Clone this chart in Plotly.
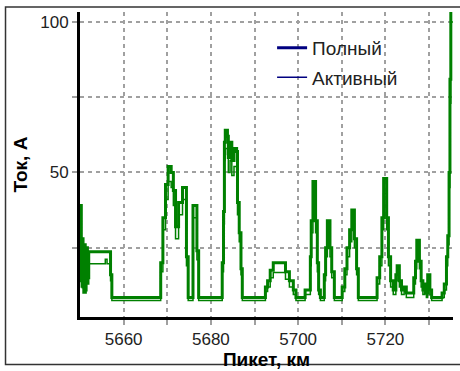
import plotly.graph_objects as go

# Data
piket_km = [
    5650.0, 5650.3, 5650.5, 5650.7, 5651.0, 5651.2, 5651.4, 5651.7, 5652.0, 5655.8,
    5656.2, 5657.0, 5657.3, 5668.5, 5669.0, 5669.6, 5670.2, 5670.9, 5671.4, 5671.9,
    5672.6, 5673.5, 5674.4, 5674.8, 5675.9, 5676.8, 5677.2, 5682.6, 5682.9, 5683.1,
    5683.3, 5683.8, 5684.0, 5684.4, 5684.8, 5685.3, 5685.9, 5686.1, 5686.5, 5686.9,
    5687.2, 5692.5, 5693.0, 5693.6, 5694.3, 5697.1, 5698.0, 5698.9, 5699.5, 5701.6,
    5702.8, 5703.0, 5703.4, 5704.0, 5704.4, 5704.7, 5705.1, 5706.0, 5706.3, 5706.7,
    5707.3, 5707.7, 5708.3, 5710.1, 5710.7, 5711.2, 5711.8, 5712.3, 5712.9, 5713.4,
    5713.8, 5718.1, 5718.7, 5719.2, 5719.6, 5720.3, 5720.7, 5721.2, 5721.8, 5722.4,
    5722.7, 5723.2, 5723.7, 5724.3, 5724.8, 5726.5, 5726.9, 5727.2, 5727.8, 5728.2,
    5728.6, 5729.0, 5729.4, 5729.7, 5730.2, 5730.6, 5733.0, 5733.5, 5734.0, 5734.3,
    5734.6, 5734.8, 5735.0, 5735.5,
]
tok_polny = [
    39, 14, 28, 12, 26, 11, 25, 15, 23.7, 23.7,
    23.7, 16, 8.5, 20, 35, 46, 52, 50, 44, 32,
    40, 45, 22, 8.5, 39, 24, 8.5, 20, 37, 60,
    64, 62, 55, 60, 54, 58, 57, 40, 30, 18,
    8.5, 12, 14, 17.5, 20, 17, 14, 11, 8.5, 11,
    22, 34, 47, 34, 20, 11, 8.5, 16, 25, 34,
    25, 17, 8.5, 12, 18, 25, 31, 37.5, 28, 18,
    8.5, 15, 22, 35, 48, 35, 22, 14, 11, 16,
    19, 14, 11, 12, 10, 15, 20.5, 27.5, 20.5, 14,
    11, 13, 10, 16, 11, 8.5, 10, 13, 22, 29,
    50, 81, 108, 108,
]
tok_aktivny = [
    34, 12, 24, 10, 22, 10, 21, 13, 19.7, 21.2,
    19.7, 14, 7.5, 17, 31, 41, 47, 45, 39, 28,
    36, 41, 19, 7.5, 35, 21, 7.5, 17, 33, 54,
    58, 56, 50, 54, 49, 52, 51, 36, 27, 16,
    7.5, 10.5, 12, 15, 16.8, 14.5, 12, 9.5, 7.5, 9.5,
    19, 30, 42, 30, 17, 9.5, 7.5, 14, 22, 30,
    22, 15, 7.5, 10.5, 16, 22, 27, 33, 25, 16,
    7.5, 13, 19, 31, 43, 31, 19, 12, 9.5, 14,
    16.5, 12, 9.5, 10.5, 8.5, 13, 18, 24, 18, 12,
    9.5, 11, 8.5, 14, 9.5, 7.5, 8.5, 11, 19, 26,
    45, 73, 100, 100,
]
x_tick_vals = [5660, 5670, 5680, 5690, 5700, 5710, 5720, 5730]
x_tick_text = ["5660", "", "5680", "", "5700", "", "5720", ""]
y_tick_vals = [25, 50, 75, 100]
y_tick_text = ["", "50", "", "100"]
series_names = ["Полный", "Активный"]

FONT = "Liberation Sans, Arial, sans-serif"
GREEN = "#008000"
NAVY = "#000080"

fig = go.Figure()
fig.add_trace(go.Scatter(x=piket_km, y=tok_polny, mode="lines", line=dict(color=GREEN, width=3, shape="hv"),
                         showlegend=False, name=series_names[0]))
fig.add_trace(go.Scatter(x=piket_km, y=tok_aktivny, mode="lines", line=dict(color=GREEN, width=1.5, shape="hv"),
                         showlegend=False, name=series_names[1]))
# legend entries (legend uses navy samples in the reference)
fig.add_trace(go.Scatter(x=[None], y=[None], mode="lines", line=dict(color=NAVY, width=3),
                         name=series_names[0], legendgroup="a"))
fig.add_trace(go.Scatter(x=[None], y=[None], mode="lines", line=dict(color=NAVY, width=1.5),
                         name=series_names[1], legendgroup="b"))

grid = dict(showgrid=True, gridcolor="#a0a0a0", gridwidth=1.5, griddash="4px,4px",
            ticks="outside", ticklen=5, tickcolor="#a0a0a0", tickwidth=1.5,
            showline=True, linecolor="black", linewidth=3, zeroline=False,
            tickfont=dict(family=FONT, size=17, color="#222"))

fig.update_xaxes(range=[5650, 5735.5], tickvals=x_tick_vals, ticktext=x_tick_text,
                 title=dict(text="<b>Пикет, км</b>", font=dict(family=FONT, size=19, color="black"), standoff=1),
                 **grid)
fig.update_yaxes(range=[2, 103.3], tickvals=y_tick_vals, ticktext=y_tick_text,
                 title=dict(text="<b>Ток, А</b>", font=dict(family=FONT, size=19, color="black"), standoff=8),
                 **grid)

fig.update_layout(
    width=460, height=371,
    margin=dict(l=80, r=7, t=12, b=51),
    paper_bgcolor="white", plot_bgcolor="white",
    legend=dict(x=0.515, y=0.945, xanchor="left", yanchor="top", bgcolor="rgba(0,0,0,0)",
                font=dict(family=FONT, size=19, color="#222"), tracegroupgap=2, itemwidth=30),
    shapes=[dict(type="rect", xref="paper", yref="paper", x0=-0.1997, x1=1.03, y0=-0.156, y1=1.016,
                 line=dict(color="#333", width=1.5), layer="below")],
)

fig.write_html("out.html")
